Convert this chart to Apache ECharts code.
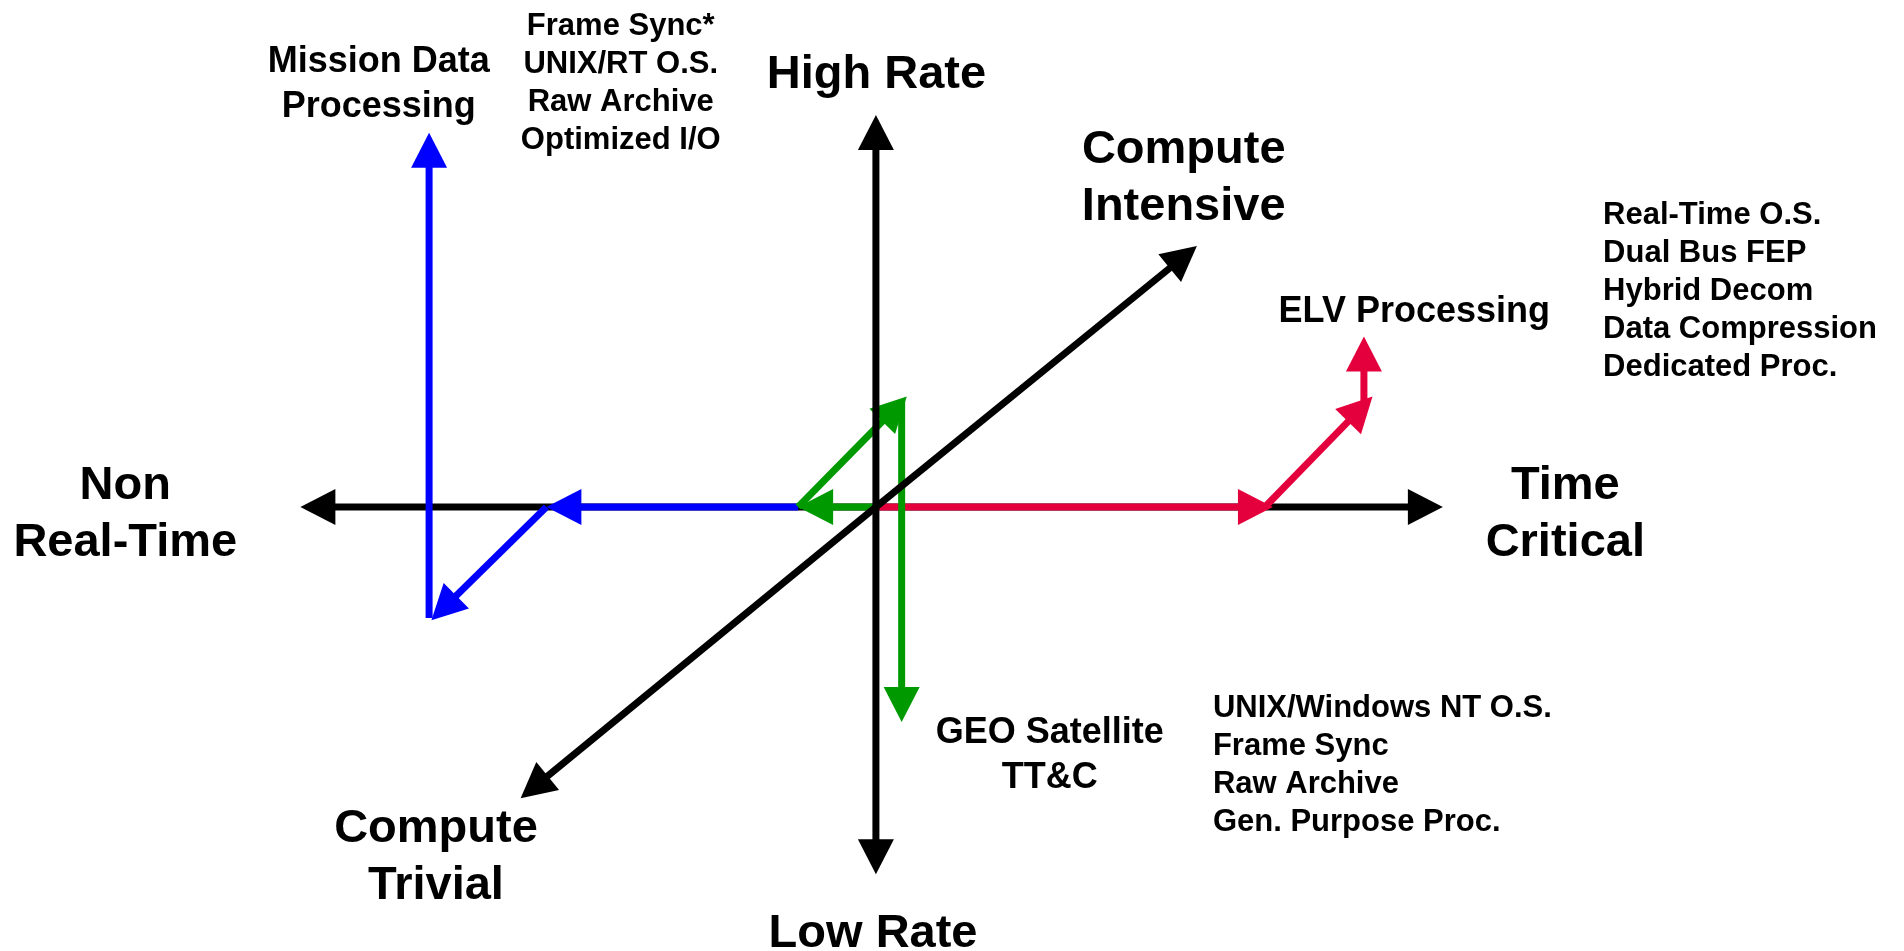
<!DOCTYPE html>
<html>
<head>
<meta charset="utf-8">
<title>Telemetry processing classes</title>
<script src="https://cdn.jsdelivr.net/npm/echarts@6/dist/echarts.min.js"></script>
<style>
  html, body { margin: 0; padding: 0; background: #fff; }
  #chart { width: 1904px; height: 951px; }
</style>
</head>
<body>
<div id="chart"></div>
<script>
// each segment: [fromX, fromY, toX, toY]; the arrow head sits at "to"
const timeAxis = [[0, 0, 9.91, 0], [0, 0, -10.06, 0]];
const rateAxis = [[0, 0, 0, 6.85], [0, 0, 0, -6.42]];
const computeAxis = [[0, 0, 5.61, 4.56], [0, 0, -6.21, -5.09]];

const missionPath = [[-1.36, 0, -5.76, 0], [-5.76, 0, -7.77, -1.98], [-7.81, -1.94, -7.81, 6.54]];
const geoPath = [[0, 0, -1.36, 0], [-1.36, 0, 0.54, 1.93], [0.45, 1.87, 0.45, -3.76]];
const elvPath = [[0, 0, 6.94, 0], [6.80, 0, 8.68, 1.93], [8.53, 1.73, 8.53, 2.98]];

// axis end titles
const axisTitles = ['High Rate', 'Low Rate', 'Non\nReal-Time', 'Time\nCritical', 'Compute\nIntensive', 'Compute\nTrivial'];
const axisTitlePos = [[0.01, 7.54], [-0.05, -7.47], [-13.12, -0.13], [12.05, -0.13], [5.38, 5.74], [-7.69, -6.13]];

// mission names
const missionNames = ['Mission Data\nProcessing', 'ELV Processing', 'GEO Satellite\nTT&C'];
const missionNamePos = [[-8.69, 7.39], [9.41, 3.41], [3.04, -4.34]];

// feature lists
const featureLists = [
  'Frame Sync*\nUNIX/RT O.S.\nRaw Archive\nOptimized I/O',
  'Real-Time O.S.\nDual Bus FEP\nHybrid Decom\nData Compression\nDedicated Proc.',
  'UNIX/Windows NT O.S.\nFrame Sync\nRaw Archive\nGen. Purpose Proc.'
];
const featureListPos = [[-4.46, 7.41], [12.71, 3.77], [5.89, -4.52]];
const featureAlign = ['center', 'left', 'left'];

const FONT = '"Liberation Sans", Arial, Helvetica, sans-serif';
const HEAD_LEN = 35;
const HEAD_W = 36;

const chart = echarts.init(document.getElementById('chart'));

function arrowSeries(data, color, z) {
  return {
    type: 'custom',
    coordinateSystem: 'cartesian2d',
    z: z,
    silent: true,
    data: data,
    renderItem: (params, api) => {
      const p1 = api.coord([api.value(0), api.value(1)]);
      const p2 = api.coord([api.value(2), api.value(3)]);
      const dx = p2[0] - p1[0];
      const dy = p2[1] - p1[1];
      const len = Math.hypot(dx, dy);
      const ux = dx / len;
      const uy = dy / len;
      const bx = p2[0] - ux * HEAD_LEN;
      const by = p2[1] - uy * HEAD_LEN;
      return {
        type: 'group',
        children: [
          {
            type: 'line',
            shape: { x1: p1[0], y1: p1[1], x2: bx + ux * 2, y2: by + uy * 2 },
            style: { stroke: color, lineWidth: 7 }
          },
          {
            type: 'polygon',
            shape: {
              points: [
                p2,
                [bx - uy * HEAD_W / 2, by + ux * HEAD_W / 2],
                [bx + uy * HEAD_W / 2, by - ux * HEAD_W / 2]
              ]
            },
            style: { fill: color }
          }
        ]
      };
    }
  };
}

function textSeries(texts, pos, size, lineHeight, align, z) {
  return {
    type: 'custom',
    coordinateSystem: 'cartesian2d',
    z: z,
    silent: true,
    data: pos,
    renderItem: (params, api) => {
      const p = api.coord([api.value(0), api.value(1)]);
      const a = Array.isArray(align) ? align[params.dataIndex] : align;
      return {
        type: 'text',
        x: p[0],
        y: p[1],
        style: {
          text: texts[params.dataIndex],
          fill: '#000',
          fontFamily: FONT,
          fontWeight: 'bold',
          fontSize: size,
          lineHeight: lineHeight,
          align: a,
          verticalAlign: 'middle'
        }
      };
    }
  };
}

const option = {
  animation: false,
  backgroundColor: '#fff',
  grid: { left: 0, right: 0, top: 0, bottom: 0 },
  xAxis: { type: 'value', min: -15.31, max: 17.97, show: false },
  yAxis: { type: 'value', min: -7.76, max: 8.86, show: false },
  series: [
    arrowSeries(timeAxis, '#000', 1),
    arrowSeries(elvPath, '#e4003c', 2),
    arrowSeries(missionPath, '#0000ff', 3),
    arrowSeries(geoPath, '#009900', 4),
    arrowSeries(rateAxis, '#000', 5),
    arrowSeries(computeAxis, '#000', 5),
    textSeries(axisTitles, axisTitlePos, 47, 57, 'center', 6),
    textSeries(missionNames, missionNamePos, 36, 45, 'center', 6),
    textSeries(featureLists, featureListPos, 31, 38, featureAlign, 6)
  ]
};

chart.setOption(option);
window.addEventListener('resize', () => chart.resize());
</script>
</body>
</html>
